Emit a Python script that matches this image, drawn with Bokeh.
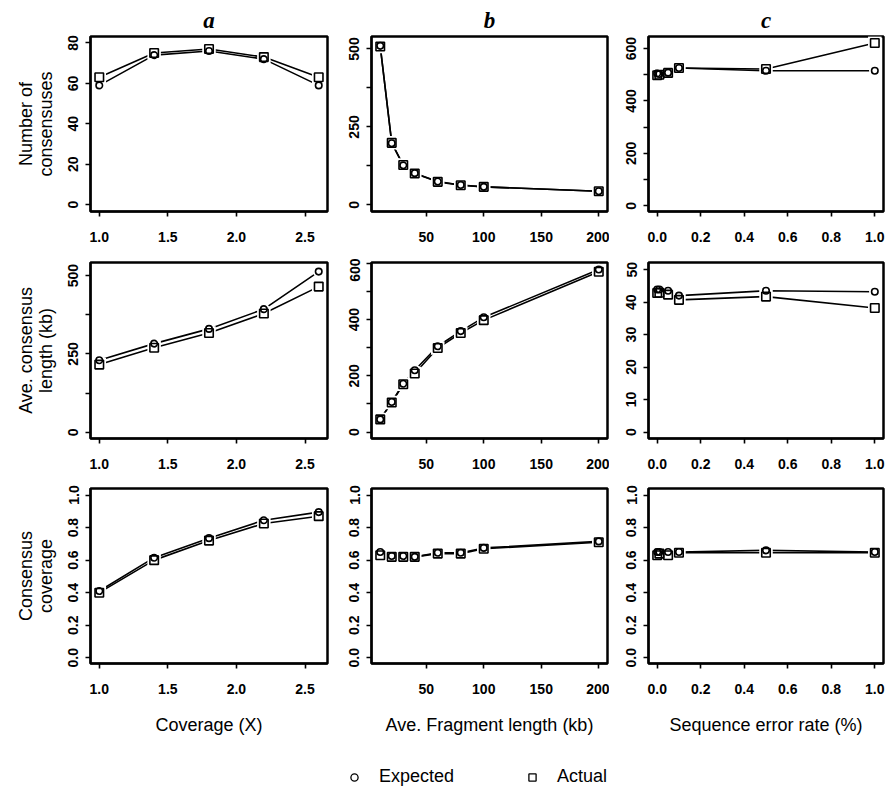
from bokeh.plotting import figure
from bokeh.layouts import column, row
from bokeh.models import Range1d, FixedTicker, Legend, LegendItem
from bokeh.embed import file_html
from bokeh.resources import INLINE

# ---------------- data ----------------
coverage = [1.0, 1.4, 1.8, 2.2, 2.6]
frag_len = [10, 20, 30, 40, 60, 80, 100, 200]
error_rate = [0.0, 0.01, 0.05, 0.1, 0.5, 1.0]

ncons_cov_exp = [59, 74, 76, 72, 59]
ncons_cov_act = [63, 75, 77, 73, 63]
ncons_frag_exp = [510, 198, 127, 102, 75, 64, 58, 44]
ncons_frag_act = [508, 199, 128, 101, 74, 63, 58, 44]
ncons_err_exp = [505, 503, 508, 526, 515, 515]
ncons_err_act = [498, 500, 507, 526, 522, 621]

len_cov_exp = [230, 283, 330, 393, 513]
len_cov_act = [216, 270, 317, 379, 465]
len_frag_exp = [45, 107, 172, 220, 305, 359, 408, 578]
len_frag_act = [45, 105, 170, 208, 299, 352, 398, 570]
len_err_exp = [43.9, 43.9, 43.5, 42.0, 43.5, 43.2]
len_err_act = [42.8, 42.9, 42.3, 40.7, 41.7, 38.2]

ccov_cov_exp = [0.41, 0.615, 0.735, 0.845, 0.895]
ccov_cov_act = [0.40, 0.60, 0.72, 0.825, 0.87]
ccov_frag_exp = [0.65, 0.625, 0.625, 0.62, 0.645, 0.645, 0.675, 0.715]
ccov_frag_act = [0.63, 0.62, 0.62, 0.62, 0.64, 0.64, 0.67, 0.71]
ccov_err_exp = [0.65, 0.65, 0.65, 0.65, 0.66, 0.65]
ccov_err_act = [0.63, 0.64, 0.63, 0.645, 0.645, 0.645]

col_titles = ["a", "b", "c"]
x_titles = ["Coverage (X)", "Ave. Fragment length (kb)", "Sequence error rate (%)"]
y_titles = ["Number of\nconsensuses", "Ave. consensus\nlength (kb)", "Consensus\ncoverage"]
legend_labels = ["Expected", "Actual"]

x_ticks_cov = [1.0, 1.5, 2.0, 2.5]
x_labels_cov = ["1.0", "1.5", "2.0", "2.5"]
x_ticks_frag = [50, 100, 150, 200]
x_labels_frag = ["50", "100", "150", "200"]
x_ticks_err = [0.0, 0.2, 0.4, 0.6, 0.8, 1.0]
x_labels_err = ["0.0", "0.2", "0.4", "0.6", "0.8", "1.0"]

y_ticks_ncons_cov = [0, 20, 40, 60, 80]
y_labels_ncons_cov = ["0", "20", "40", "60", "80"]
y_ticks_ncons_frag = [0, 125, 250, 375, 500]
y_labels_ncons_frag = ["0", "", "250", "", "500"]
y_ticks_ncons_err = [0, 100, 200, 300, 400, 500, 600]
y_labels_ncons_err = ["0", "", "200", "", "400", "", "600"]
y_ticks_len_cov = [0, 125, 250, 375, 500]
y_labels_len_cov = ["0", "", "250", "", "500"]
y_ticks_len_frag = [0, 100, 200, 300, 400, 500, 600]
y_labels_len_frag = ["0", "", "200", "", "400", "", "600"]
y_ticks_len_err = [0, 10, 20, 30, 40, 50]
y_labels_len_err = ["0", "10", "20", "30", "40", "50"]
y_ticks_ccov = [0.0, 0.2, 0.4, 0.6, 0.8, 1.0]
y_labels_ccov = ["0.0", "0.2", "0.4", "0.6", "0.8", "1.0"]

# ---------------- styling / layout ----------------
FONT = "Liberation Sans"
x_ranges = [(0.936, 2.664), (2.4, 207.6), (-0.04, 1.04)]
y_ranges = [
    [(-3.4, 83.2), (-21, 540), (-22, 646)],
    [(-20, 542), (-23, 603), (-2, 52.2)],
    [(-0.035, 1.04), (-0.035, 1.04), (-0.035, 1.04)],
]
frame_w = [237, 236, 235]
frame_h = [175, 176, 175]
border_left = [90, 42, 39]
border_right = [2, 2, 4]
border_top = [36, 4, 4]
border_bottom = [47, 46, 76]

x_data = [coverage, frag_len, error_rate]
x_ticks = [(x_ticks_cov, x_labels_cov), (x_ticks_frag, x_labels_frag), (x_ticks_err, x_labels_err)]
series = [
    [(ncons_cov_exp, ncons_cov_act), (ncons_frag_exp, ncons_frag_act), (ncons_err_exp, ncons_err_act)],
    [(len_cov_exp, len_cov_act), (len_frag_exp, len_frag_act), (len_err_exp, len_err_act)],
    [(ccov_cov_exp, ccov_cov_act), (ccov_frag_exp, ccov_frag_act), (ccov_err_exp, ccov_err_act)],
]
y_ticks = [
    [(y_ticks_ncons_cov, y_labels_ncons_cov), (y_ticks_ncons_frag, y_labels_ncons_frag), (y_ticks_ncons_err, y_labels_ncons_err)],
    [(y_ticks_len_cov, y_labels_len_cov), (y_ticks_len_frag, y_labels_len_frag), (y_ticks_len_err, y_labels_len_err)],
    [(y_ticks_ccov, y_labels_ccov), (y_ticks_ccov, y_labels_ccov), (y_ticks_ccov, y_labels_ccov)],
]

CIRC = 6.5
SQ = 8.5
GAP = 5


def style_axis(ax, ticks, labels, vertical):
    ax.ticker = FixedTicker(ticks=ticks, minor_ticks=[])
    ax.major_label_overrides = {t: l for t, l in zip(ticks, labels)}
    ax.axis_line_color = "black"
    ax.axis_line_width = 2
    ax.major_tick_out = 5
    ax.major_tick_in = 0
    ax.minor_tick_out = 0
    ax.minor_tick_in = 0
    ax.major_tick_line_width = 1.6
    ax.major_label_text_font = FONT
    ax.major_label_text_font_style = "bold"
    ax.major_label_text_font_size = "14px"
    ax.major_label_text_color = "black"
    if vertical:
        ax.major_label_orientation = "vertical"
        ax.major_label_standoff = 7
    else:
        ax.major_label_standoff = 15
    ax.axis_label_text_font = FONT
    ax.axis_label_text_font_style = "normal"
    ax.axis_label_text_font_size = "18px"
    ax.axis_label_text_color = "black"
    ax.axis_label_text_line_height = 1.0


rows = []
for i in range(3):
    figs = []
    for j in range(3):
        p = figure(
            frame_width=frame_w[j], frame_height=frame_h[i],
            x_range=Range1d(*x_ranges[j]), y_range=Range1d(*y_ranges[i][j]),
            output_backend="svg", toolbar_location=None,
            min_border_left=border_left[j], min_border_right=border_right[j],
            min_border_top=border_top[i], min_border_bottom=border_bottom[i],
            background_fill_color="white", border_fill_color="white",
        )
        p.grid.visible = False
        p.outline_line_color = "black"
        p.outline_line_width = 2.5
        style_axis(p.xaxis[0], *x_ticks[j], vertical=False)
        style_axis(p.yaxis[0], *y_ticks[i][j], vertical=True)
        if i == 0:
            p.title.text = col_titles[j]
            p.title.text_font = "Liberation Serif"
            p.title.text_font_style = "bold italic"
            p.title.text_font_size = "23px"
            p.title.text_color = "black"
            p.title.align = "center"
            p.title.standoff = 8
        if i == 2:
            p.xaxis[0].axis_label = x_titles[j]
            p.xaxis[0].axis_label_standoff = 18
        if j == 0:
            p.yaxis[0].axis_label = y_titles[i]
            p.yaxis[0].axis_label_standoff = 10
        xs = x_data[j]
        exp, act = series[i][j]
        p.line(xs, exp, line_color="black", line_width=1.6)
        p.line(xs, act, line_color="black", line_width=1.6)
        p.scatter(xs, exp, marker="circle", size=CIRC + GAP, fill_color="white", line_color=None)
        p.scatter(xs, act, marker="square", size=SQ + GAP, fill_color="white", line_color=None)
        p.scatter(xs, exp, marker="circle", size=CIRC, fill_color=None, line_color="black", line_width=1.6)
        p.scatter(xs, act, marker="square", size=SQ, fill_color=None, line_color="black", line_width=1.6)
        figs.append(p)
    rows.append(row(*figs))

leg_fig = figure(
    width=887, height=50, x_range=Range1d(0, 1), y_range=Range1d(0, 1),
    output_backend="svg", toolbar_location=None,
    min_border_left=0, min_border_right=0, min_border_top=0, min_border_bottom=0,
    outline_line_color=None,
)
leg_fig.axis.visible = False
leg_fig.grid.visible = False
r_exp = leg_fig.scatter(coverage, ncons_cov_exp, marker="circle", size=7, fill_color=None,
                        line_color="black", line_width=1.3, visible=False)
r_act = leg_fig.scatter(coverage, ncons_cov_act, marker="square", size=8, fill_color=None,
                        line_color="black", line_width=1.3, visible=False)
legend = Legend(
    items=[LegendItem(label=legend_labels[0], renderers=[r_exp]),
           LegendItem(label=legend_labels[1], renderers=[r_act])],
    orientation="horizontal", location=(344, 2),
    border_line_color=None, background_fill_alpha=0,
    inactive_fill_alpha=0,
    label_text_font=FONT, label_text_font_size="18px", label_text_color="black",
    glyph_width=20, glyph_height=18, label_standoff=15, spacing=68,
    padding=0, margin=0, click_policy="none",
)
leg_fig.add_layout(legend, "center")

layout = column(*rows, leg_fig)
open("out.html", "w").write(file_html(layout, INLINE))
